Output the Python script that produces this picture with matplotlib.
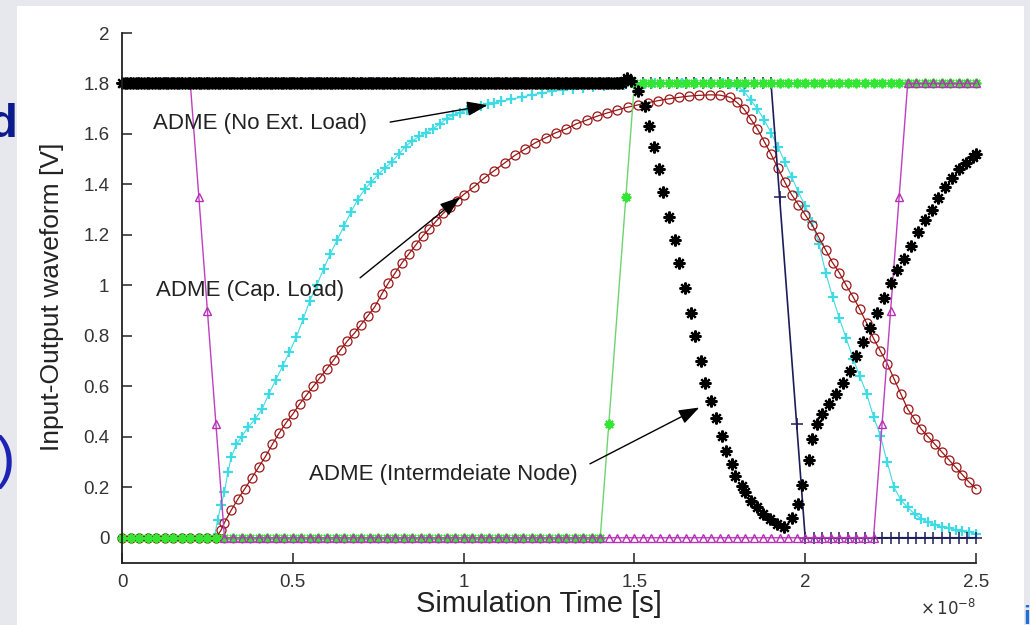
import numpy as np
import matplotlib.pyplot as plt
from matplotlib.patches import Rectangle

# time axis in units of 1e-8 s
# input ramps sampled every 0.025
t_in = np.arange(0, 2.5001, 0.025)
v_magenta = [1.8] * 9 + [1.35, 0.9, 0.45] + [0.0] * 77 + [0.45, 0.9, 1.35] + [1.8] * 9
v_green = [0.0] * 57 + [0.45, 0.9, 1.35] + [1.8] * 41
v_navy = [1.8] * 77 + [1.35, 0.9, 0.45] + [0.0] * 21

# ADME (No Ext. Load) - cyan
t_cyan = [0, 0.025, 0.05, 0.075, 0.1, 0.125, 0.15, 0.175, 0.2, 0.225, 0.25,
          0.27, 0.28, 0.29, 0.30, 0.31, 0.32, 0.335, 0.35, 0.37, 0.39, 0.41,
          0.43, 0.45, 0.47, 0.49, 0.51, 0.53, 0.55, 0.57, 0.59, 0.61, 0.63,
          0.65, 0.67, 0.69, 0.71, 0.73, 0.75, 0.77, 0.79, 0.81, 0.83, 0.85,
          0.87, 0.89, 0.91, 0.93, 0.95, 0.97, 0.99, 1.01, 1.03, 1.05, 1.07,
          1.09, 1.11, 1.14, 1.17, 1.20, 1.23, 1.26, 1.29, 1.32, 1.35, 1.38,
          1.41, 1.44, 1.47, 1.50, 1.53, 1.56, 1.60, 1.64, 1.68, 1.72, 1.76,
          1.78, 1.80, 1.82, 1.84, 1.86, 1.88, 1.90, 1.92, 1.94, 1.96, 1.98,
          2.00, 2.02, 2.04, 2.06, 2.08, 2.10, 2.12, 2.14, 2.16, 2.18, 2.20,
          2.22, 2.24, 2.26, 2.28, 2.30, 2.32, 2.34, 2.36, 2.38, 2.40, 2.42,
          2.44, 2.46, 2.48, 2.50]
v_cyan = [0, 0, 0, 0, 0, 0, 0, 0, 0, 0, 0,
          0.0, 0.07, 0.13, 0.18, 0.26, 0.32, 0.37, 0.40, 0.44, 0.47, 0.51,
          0.57, 0.625, 0.68, 0.735, 0.795, 0.865, 0.94, 1.00, 1.065, 1.125, 1.18,
          1.235, 1.29, 1.34, 1.38, 1.41, 1.44, 1.465, 1.49, 1.52, 1.55, 1.573,
          1.59, 1.605, 1.62, 1.64, 1.66, 1.675, 1.685, 1.695, 1.703, 1.71, 1.717,
          1.723, 1.73, 1.738, 1.746, 1.755, 1.762, 1.77, 1.775, 1.78, 1.784, 1.788,
          1.79, 1.793, 1.795, 1.797, 1.799, 1.8, 1.8, 1.8, 1.8, 1.8, 1.8,
          1.798, 1.79, 1.77, 1.735, 1.70, 1.655, 1.605, 1.55, 1.49, 1.43, 1.37,
          1.315, 1.25, 1.165, 1.05, 0.955, 0.87, 0.79, 0.71, 0.64, 0.57, 0.48,
          0.405, 0.30, 0.20, 0.15, 0.12, 0.095, 0.075, 0.062, 0.052, 0.044, 0.037,
          0.032, 0.028, 0.022, 0.016]

# ADME (Cap. Load) - dark red
t_red = [0, 0.025, 0.05, 0.075, 0.1, 0.125, 0.15, 0.175, 0.2, 0.225, 0.25, 0.275,
         0.29, 0.30, 0.32, 0.34, 0.36, 0.38, 0.40, 0.42, 0.44, 0.46, 0.48, 0.50,
         0.52, 0.54, 0.56, 0.58, 0.60, 0.62, 0.64, 0.66, 0.68, 0.70, 0.72, 0.74,
         0.76, 0.78, 0.80, 0.82, 0.84, 0.86, 0.88, 0.90, 0.92, 0.94, 0.96, 0.98,
         1.00, 1.03, 1.06, 1.09, 1.12, 1.15, 1.18, 1.21, 1.24, 1.27, 1.30, 1.33,
         1.36, 1.39, 1.42, 1.45, 1.48, 1.51, 1.54, 1.57, 1.60, 1.63, 1.66, 1.69,
         1.72, 1.75, 1.78, 1.80, 1.82, 1.84, 1.86, 1.88, 1.90, 1.92, 1.94, 1.96,
         1.98, 2.00, 2.02, 2.04, 2.06, 2.08, 2.10, 2.12, 2.14, 2.16, 2.18, 2.20,
         2.22, 2.24, 2.26, 2.28, 2.30, 2.32, 2.34, 2.36, 2.38, 2.40, 2.42, 2.44,
         2.46, 2.48, 2.50]
v_red = [0, 0, 0, 0, 0, 0, 0, 0, 0, 0, 0, 0,
         0.03, 0.06, 0.11, 0.155, 0.195, 0.237, 0.28, 0.322, 0.37, 0.415, 0.455, 0.49,
         0.53, 0.565, 0.60, 0.635, 0.67, 0.705, 0.745, 0.78, 0.81, 0.845, 0.88, 0.915,
         0.965, 1.01, 1.05, 1.09, 1.125, 1.16, 1.195, 1.225, 1.255, 1.285, 1.31, 1.335,
         1.36, 1.39, 1.425, 1.455, 1.485, 1.515, 1.54, 1.565, 1.585, 1.605, 1.62, 1.64,
         1.655, 1.67, 1.683, 1.695, 1.706, 1.715, 1.724, 1.732, 1.739, 1.745, 1.75, 1.753,
         1.755, 1.754, 1.745, 1.725, 1.70, 1.66, 1.62, 1.57, 1.52, 1.465, 1.41, 1.36,
         1.32, 1.28, 1.24, 1.19, 1.14, 1.09, 1.05, 1.00, 0.955, 0.905, 0.85, 0.79,
         0.74, 0.69, 0.63, 0.57, 0.51, 0.47, 0.43, 0.40, 0.37, 0.34, 0.31, 0.28,
         0.25, 0.22, 0.195]

# ADME (Intermediate Node) - black asterisks
t_black_flat = np.arange(0, 1.465, 0.008)
v_black_flat = np.full(len(t_black_flat), 1.8)
t_black = [1.47, 1.478, 1.49, 1.51, 1.53, 1.543, 1.557, 1.572, 1.585, 1.60, 1.618,
           1.63, 1.648, 1.666, 1.677, 1.695, 1.707, 1.724, 1.74, 1.756, 1.768, 1.786,
           1.795, 1.815, 1.824, 1.84, 1.86, 1.877, 1.896, 1.917, 1.938, 1.96, 1.98,
           1.99, 2.01, 2.02, 2.035, 2.05, 2.07, 2.09, 2.11, 2.13, 2.15, 2.17, 2.19,
           2.21, 2.23, 2.25, 2.27, 2.29, 2.31, 2.33, 2.35, 2.37, 2.39, 2.41, 2.43,
           2.45, 2.47, 2.49, 2.50]
v_black = [1.81, 1.82, 1.81, 1.77, 1.71, 1.63, 1.55, 1.46, 1.37, 1.27, 1.18,
           1.087, 0.99, 0.89, 0.80, 0.70, 0.615, 0.54, 0.476, 0.405, 0.345, 0.293,
           0.246, 0.206, 0.18, 0.147, 0.12, 0.095, 0.075, 0.056, 0.044, 0.08, 0.135,
           0.21, 0.31, 0.39, 0.45, 0.49, 0.53, 0.57, 0.615, 0.66, 0.72, 0.775, 0.83,
           0.89, 0.95, 1.01, 1.06, 1.105, 1.155, 1.21, 1.26, 1.30, 1.345, 1.39, 1.425,
           1.46, 1.485, 1.51, 1.52]

xticks = [0, 0.5, 1, 1.5, 2, 2.5]
xticklabels = ['0', '0.5', '1', '1.5', '2', '2.5']
yticks = [0, 0.2, 0.4, 0.6, 0.8, 1, 1.2, 1.4, 1.6, 1.8, 2]
yticklabels = ['0', '0.2', '0.4', '0.6', '0.8', '1', '1.2', '1.4', '1.6', '1.8', '2']

plt.rcParams['font.family'] = ['Liberation Sans', 'DejaVu Sans']

fig = plt.figure(figsize=(10.3, 6.25), dpi=100)
fig.patch.set_facecolor('#e7e8ee')
# bits of slide text peeking out at the edges
fig.text(17 / 1030, 1 - 137 / 625, 'd', ha='right', va='baseline', fontsize=34,
         fontweight='bold', color='#0b1a8c', zorder=-3)
fig.text(15 / 1030, 1 - 462 / 625, ')', ha='right', va='center', fontsize=42,
         color='#1c22b4', zorder=-3)
fig.text(1023 / 1030, 1 - 624 / 625, 'i', ha='left', va='baseline', fontsize=18,
         fontweight='bold', color='#1f6fd6', zorder=-3)
fig.add_artist(Rectangle((17 / 1030, 0), (1024 - 17) / 1030, (625 - 6) / 625,
                         transform=fig.transFigure, facecolor='white',
                         edgecolor='none', zorder=-1))

ax = fig.add_axes([122 / 1030, 62 / 625, 854 / 1030, 530 / 625])
ax.set_facecolor('white')

navy_marks = [i for i in range(len(t_in)) if i != 78]
green_marks = [i for i in range(len(t_in)) if i != 58]

ax.plot(t_cyan, v_cyan, color='#3fdbe4', lw=0.8, marker='+', ms=7, mew=1.6,
        clip_on=False)
ax.plot(t_red, v_red, color='#9a1616', lw=0.9, marker='o', ms=6.5, mfc='none',
        mew=0.9, clip_on=False)
ax.plot(t_in, v_navy, color='#1c1c5a', lw=1.2, marker='+', ms=8, mew=1.1,
        markevery=navy_marks, clip_on=False)
ax.plot(t_in, v_green, color='#6fd36f', lw=1.0, marker=(8, 2, 0), ms=7,
        mec='#33e633', mew=1.4, markevery=green_marks, clip_on=False)
ax.plot(t_in, v_magenta, color='#c03fc0', lw=1.0, marker='^', ms=5.5, mfc='none',
        mec='#b530b5', mew=1.0, clip_on=False)
ax.plot(t_black_flat, v_black_flat, ls='none', marker=(8, 2, 0), ms=8.5, mew=1.5,
        color='black', clip_on=False)
ax.plot(t_black, v_black, ls='none', marker=(8, 2, 0), ms=8.5, mew=1.6,
        color='black', clip_on=False)

ax.set_xlim(0, 2.5)
ax.set_ylim(-0.1, 2)
ax.set_xticks(xticks)
ax.set_xticklabels(xticklabels)
ax.set_yticks(yticks)
ax.set_yticklabels(yticklabels)
ax.tick_params(direction='in', length=7, width=1.1, labelsize=13.5,
               labelcolor='#333333', color='#222222')
ax.tick_params(axis='x', pad=8)
ax.tick_params(axis='y', pad=9)
for s in ['top', 'right']:
    ax.spines[s].set_visible(False)
for s in ['left', 'bottom']:
    ax.spines[s].set_linewidth(1.3)
    ax.spines[s].set_color('#222222')

ax.set_xlabel('Simulation Time [s]', fontsize=21, color='#222222', va='center')
ax.xaxis.set_label_coords(0.488, -0.078)
ax.set_ylabel('Input-Output waveform [V]', fontsize=19, color='#222222', va='center')
ax.yaxis.set_label_coords(-0.082, 0.503)
ax.text(0.967, -0.085, r'$\times\,10^{-8}$', transform=ax.transAxes,
        fontsize=12, color='#333333', ha='center', va='center')

# labels with arrows
ax.text(0.404, 1.643, 'ADME (No Ext. Load)', fontsize=16, color='#222222',
        ha='center', va='center')
ax.annotate('', xy=(1.07, 1.714), xytext=(0.785, 1.647),
            arrowprops=dict(arrowstyle='-|>,head_length=0.7,head_width=0.25',
                            color='black', lw=1.0, mutation_scale=18,
                            shrinkA=0, shrinkB=0))
ax.text(0.375, 0.98, 'ADME (Cap. Load)', fontsize=16, color='#222222',
        ha='center', va='center')
ax.annotate('', xy=(0.99, 1.35), xytext=(0.697, 1.03),
            arrowprops=dict(arrowstyle='-|>,head_length=0.7,head_width=0.25',
                            color='black', lw=1.0, mutation_scale=18,
                            shrinkA=0, shrinkB=0))
ax.text(0.94, 0.25, 'ADME (Intermdeiate Node)', fontsize=16, color='#222222',
        ha='center', va='center')
ax.annotate('', xy=(1.69, 0.516), xytext=(1.37, 0.293),
            arrowprops=dict(arrowstyle='-|>,head_length=0.7,head_width=0.25',
                            color='black', lw=1.0, mutation_scale=18,
                            shrinkA=0, shrinkB=0))

fig.savefig('out.png', dpi=100, facecolor=fig.get_facecolor())
